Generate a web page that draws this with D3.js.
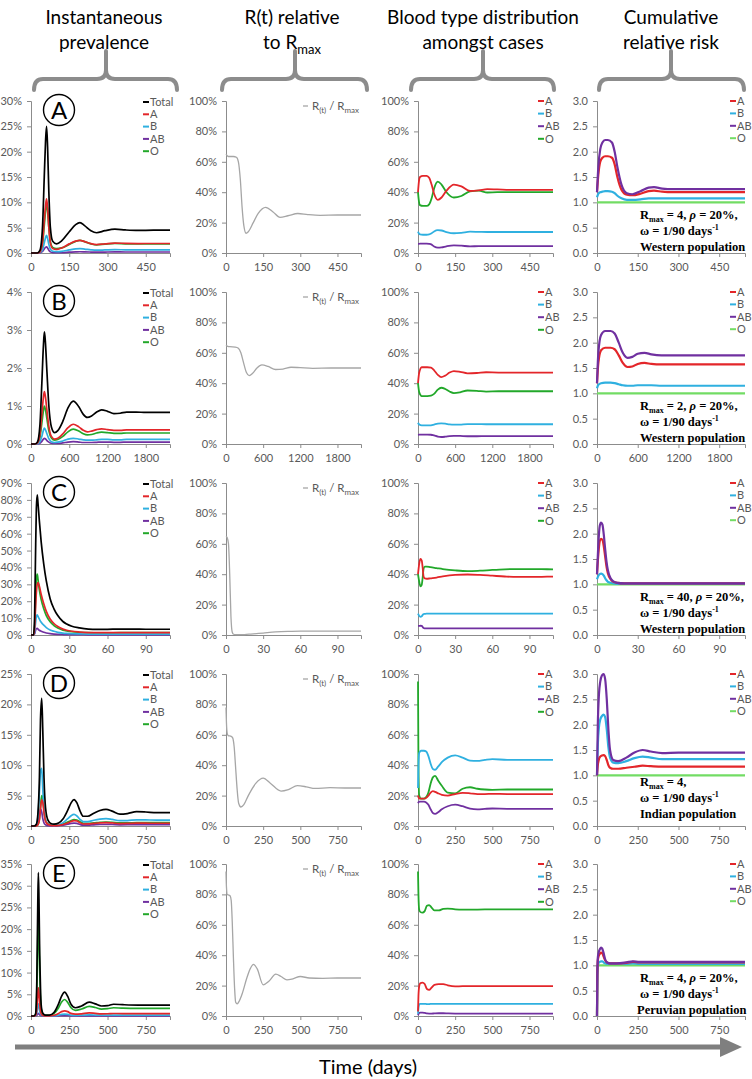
<!DOCTYPE html>
<html><head><meta charset="utf-8">
<script src="https://cdn.jsdelivr.net/npm/d3@7"></script>
<style>body{margin:0;background:#fff}svg{display:block}</style>
</head><body><svg id="c" width="752" height="1079"></svg>
<script>
// ---------- DATA ----------
const rowLabels = ["A","B","C","D","E"];
const headers = [["Instantaneous","prevalence"],["R(t) relative","to R"],["Blood type distribution","amongst cases"],["Cumulative","relative risk"]];
const xMaxDays = [545, 2180, 109, 908, 908];
const xTickVals = [[0,150,300,450],[0,600,1200,1800],[0,30,60,90],[0,250,500,750],[0,250,500,750]];
const prevMax = [30, 4, 90, 25, 35];
const prevStep = [5, 1, 10, 5, 5];
const pctTicks = [0,20,40,60,80,100];
const rrTicks = [0,0.5,1,1.5,2,2.5,3];
const prevNames = ["Total","A","B","AB","O"];
const typeNames = ["A","B","AB","O"];
const rmaxVals = ["4","2","40","4","4"];
const rhoShown = [true,true,true,false,true];
const populations = ["Western population","Western population","Western population","Indian population","Peruvian population"];

// Row A
const prevA = {t:[0,25,35,45,52,57,61,65,70,76,85,100,120,150,175,192,210,235,257,290,329,370,420,480,545],
 Total:[0,0,0.5,5,15,22,25,21,12,5,2.3,1.8,2.4,4.2,5.6,6.0,5.4,4.4,4.0,4.4,4.7,4.55,4.45,4.5,4.5],
 A:[0,0,0.2,2.1,6.4,9.3,10.7,8.9,5.0,2.0,0.9,0.7,1.0,1.8,2.35,2.5,2.25,1.85,1.65,1.8,1.95,1.9,1.87,1.88,1.88],
 B:[0,0,0.06,0.6,2.0,3.0,3.5,2.9,1.7,0.75,0.35,0.27,0.33,0.6,0.8,0.85,0.77,0.63,0.56,0.6,0.65,0.63,0.62,0.62,0.62],
 AB:[0,0,0.03,0.3,0.8,1.1,1.2,1.0,0.55,0.22,0.09,0.07,0.08,0.16,0.22,0.25,0.23,0.19,0.17,0.19,0.21,0.2,0.2,0.2,0.2],
 O:[0,0,0.17,1.6,5.4,8.2,10.0,8.4,5.0,2.2,1.1,0.85,1.0,1.7,2.3,2.5,2.25,1.8,1.6,1.75,1.9,1.82,1.78,1.8,1.8]};
const rA = {t:[0,5,10,30,42,50,58,65,72,81,90,110,130,160,190,218,250,290,330,380,450,545],
 R:[65,64,63.5,63.5,63,60,48,30,18,13,14,20,26,30,27,23.5,24.5,26,25.3,24.8,25,25]};
const distA = {t:[0,3,8,20,35,45,55,65,80,95,115,145,175,210,245,280,320,380,450,545],
 A:[40,46,50,50.8,50.7,49.5,45,39,35,36.5,41,45,43.8,40.8,41.2,42,41.8,41.5,41.5,41.5],
 B:[14,13,12.2,12,12,12.2,13,14.2,15,14.8,13.8,13,13.3,14,13.9,13.8,13.8,13.8,13.8,13.8],
 AB:[6,6,6.2,6.2,6.2,6,5.5,4.3,3.5,3.7,4.4,5,4.8,4.4,4.5,4.5,4.5,4.5,4.5,4.5],
 O:[40,35,31.5,31,31,32,36,42.5,47,45,40,36.5,37.5,40.5,41,39.8,40,40,40,40]};
const rrA = {t:[0,5,12,20,30,40,55,65,75,90,110,130,160,190,210,240,280,350,450,545],
 A:[1.2,1.55,1.8,1.88,1.91,1.91,1.88,1.75,1.5,1.25,1.15,1.14,1.17,1.22,1.23,1.21,1.2,1.2,1.2,1.2],
 B:[1.1,1.17,1.2,1.21,1.22,1.22,1.21,1.18,1.13,1.08,1.05,1.05,1.06,1.08,1.08,1.08,1.08,1.08,1.08,1.08],
 AB:[1.2,1.7,2.05,2.18,2.23,2.23,2.18,2.0,1.7,1.35,1.18,1.16,1.22,1.29,1.3,1.27,1.26,1.26,1.26,1.26],
 O:[1,1,1,1,1,1,1,1,1,1,1,1,1,1,1,1,1,1,1,1]};

// Row B
const prevB = {t:[0,60,100,140,170,195,210,225,250,280,320,370,420,500,580,663,750,820,883,950,1030,1107,1200,1300,1400,1500,1650,1800,2000,2180],
 Total:[0,0,0.05,0.5,1.6,2.6,2.95,2.7,1.9,1.0,0.45,0.3,0.35,0.6,0.95,1.13,0.98,0.78,0.7,0.74,0.84,0.9,0.86,0.8,0.81,0.84,0.84,0.83,0.83,0.83],
 A:[0,0,0.025,0.25,0.78,1.23,1.38,1.26,0.88,0.46,0.2,0.13,0.15,0.27,0.43,0.52,0.45,0.36,0.32,0.34,0.38,0.4,0.38,0.36,0.36,0.37,0.37,0.37,0.37,0.37],
 B:[0,0,0.007,0.06,0.2,0.36,0.42,0.38,0.27,0.14,0.06,0.04,0.05,0.08,0.13,0.15,0.13,0.11,0.1,0.1,0.11,0.12,0.12,0.11,0.11,0.12,0.12,0.12,0.12,0.12],
 AB:[0,0,0.003,0.02,0.07,0.13,0.15,0.14,0.09,0.05,0.02,0.015,0.015,0.03,0.05,0.06,0.05,0.04,0.04,0.04,0.045,0.05,0.05,0.045,0.045,0.05,0.05,0.05,0.05,0.05],
 O:[0,0,0.015,0.17,0.55,0.88,1.0,0.92,0.66,0.35,0.16,0.1,0.12,0.2,0.32,0.39,0.34,0.27,0.24,0.25,0.29,0.31,0.3,0.28,0.28,0.29,0.29,0.29,0.29,0.29]};
const rB = {t:[0,30,60,150,200,240,280,330,375,430,500,580,680,800,920,1050,1200,1400,1700,2180],
 R:[65,64.2,64,63.8,63,60,54,47,45,46.5,50,52,51,49,49.3,50.5,50.2,49.8,50,50]};
const distB = {t:[0,20,60,150,210,260,320,375,440,510,580,680,800,950,1100,1300,1600,2180],
 A:[40,47,50.5,50.5,50.2,48.5,45.5,44,45,47,48,47.5,46.5,46.7,47.2,47,47,47],
 B:[14,12.8,12.2,12.2,12.3,12.8,13.4,13.6,13.4,12.9,12.7,12.8,13.1,13.1,13,13,13,13],
 AB:[6,6.1,6.2,6.2,6.1,5.6,4.9,4.6,4.8,5.2,5.4,5.3,5.1,5.1,5.2,5.2,5.2,5.2],
 O:[40,34,31.5,31.5,31.8,33,35.8,37,36.2,34.5,33.5,34,35.2,35,34.5,34.7,34.7,34.7]};
const rrB = {t:[0,20,60,120,200,260,320,380,450,520,600,700,800,950,1200,1600,2180],
 A:[1.2,1.6,1.85,1.9,1.9,1.87,1.75,1.6,1.52,1.53,1.58,1.6,1.58,1.57,1.57,1.57,1.57],
 B:[1.1,1.17,1.2,1.21,1.21,1.2,1.18,1.16,1.15,1.15,1.16,1.16,1.16,1.15,1.15,1.15,1.15],
 AB:[1.2,1.8,2.15,2.23,2.23,2.18,2.0,1.8,1.7,1.72,1.78,1.8,1.77,1.75,1.75,1.75,1.75],
 O:[1,1,1,1,1,1,1,1,1,1,1,1,1,1,1,1,1]};

// Row C
const prevC = {t:[0,2,2.8,3.5,4.2,4.9,5.5,6.5,8,10,12,15,18,21,25,28,32,38,45,52,60,70,80,90,100,109],
 Total:[0,0,10,45,75,83,78,68,55,42,32,21.5,15.5,11.5,8,6.5,5.2,4.2,3.5,3.3,3.35,3.5,3.5,3.4,3.4,3.4],
 A:[0,0,3.5,15,25,30,31,29,24,18.5,14,9.5,6.8,5,3.5,2.8,2.2,1.75,1.45,1.35,1.38,1.43,1.45,1.42,1.42,1.42],
 B:[0,0,1.6,6.5,11,12,11,9.5,7.5,5.8,4.4,3.0,2.2,1.6,1.15,0.95,0.75,0.62,0.52,0.48,0.48,0.5,0.5,0.48,0.48,0.48],
 AB:[0,0,0.6,2.5,3.8,4,3.5,2.8,2.2,1.6,1.2,0.8,0.55,0.4,0.28,0.22,0.18,0.15,0.13,0.12,0.12,0.13,0.13,0.13,0.13,0.13],
 O:[0,0,4,20,33,36,33,27,21,15.5,11.5,7.8,5.6,4.1,2.9,2.4,1.95,1.6,1.35,1.3,1.3,1.35,1.38,1.35,1.35,1.35]};
const rC = {t:[0,1,2,3,4,5,6,8,10,15,20,30,40,50,60,80,109],
 R:[65,64,60,40,12,2,0.5,0.2,0.2,0.3,0.6,1.3,2.0,2.4,2.6,2.6,2.5]};
const distC = {t:[0,1,2,3,3.8,4.5,5.5,7,10,15,20,30,40,50,60,70,80,90,100,109],
 A:[40,47,50,49,44,38.5,37.2,37,37.3,37.8,38.5,39.5,39.8,39.5,39,38.5,38.2,38.2,38.3,38.4],
 B:[14,12.5,12,12.3,13.2,13.8,13.9,14,14,14,14,14,14,14,14,14,14,14,14,14],
 AB:[6,6,6.1,6,5.2,4.6,4.4,4.3,4.3,4.3,4.3,4.3,4.3,4.3,4.3,4.3,4.3,4.3,4.3,4.3],
 O:[40,35,32,33,38,43.5,45,45,44.6,44,43.4,42.5,42,42.3,42.8,43.2,43.4,43.4,43.3,43.2]};
const rrC = {t:[0,1,2,3,4,5,6,7,8,10,12,15,20,30,50,109],
 A:[1.2,1.6,1.85,1.9,1.88,1.75,1.55,1.35,1.22,1.1,1.05,1.03,1.02,1.02,1.02,1.02],
 B:[1.1,1.17,1.2,1.21,1.2,1.17,1.12,1.08,1.05,1.03,1.02,1.01,1.01,1.01,1.01,1.01],
 AB:[1.2,1.8,2.15,2.22,2.18,1.98,1.7,1.45,1.28,1.12,1.06,1.03,1.02,1.02,1.02,1.02],
 O:[1,1,1,1,1,1,1,1,1,1,1,1,1,1,1,1]};

// Row D
const prevD = {t:[0,20,35,45,55,62,70,77,85,95,110,130,150,180,210,240,262,281,300,320,341,370,410,450,490,530,581,630,690,750,820,908],
 Total:[0,0,0.3,2,8,17.5,21,15.7,7.9,3,1,0.4,0.3,0.5,1.2,2.6,3.8,4.35,3.8,2.5,1.6,1.6,2.1,2.55,2.74,2.45,1.95,2.05,2.35,2.3,2.2,2.2],
 A:[0,0,0.03,0.2,1.0,2.8,4.3,3.9,2.2,0.8,0.28,0.1,0.07,0.1,0.25,0.5,0.75,0.9,0.82,0.55,0.33,0.35,0.42,0.5,0.55,0.5,0.4,0.42,0.47,0.46,0.45,0.45],
 B:[0,0,0.2,1.5,5.5,9.0,9.5,6,2.6,0.9,0.3,0.12,0.1,0.2,0.55,1.2,1.7,1.9,1.65,1.1,0.72,0.72,0.95,1.12,1.2,1.08,0.88,0.9,1.02,1.0,0.97,0.97],
 AB:[0,0,0.05,0.4,1.8,2.8,2.3,1.2,0.5,0.2,0.06,0.03,0.03,0.06,0.15,0.3,0.42,0.48,0.42,0.25,0.15,0.15,0.2,0.25,0.27,0.25,0.2,0.21,0.24,0.24,0.23,0.23],
 O:[0,0,0.04,0.2,1.2,3.2,5.0,4.6,2.6,1.0,0.35,0.15,0.1,0.15,0.3,0.65,0.9,1.05,0.98,0.7,0.45,0.42,0.5,0.6,0.66,0.62,0.5,0.5,0.56,0.56,0.54,0.54]};
const rD = {t:[0,3,8,15,35,45,55,65,75,85,100,120,150,200,250,300,370,420,480,540,600,700,800,908],
 R:[78,68,61,59.5,59,58,52,38,24,15,12.5,14,20,28,31.5,28,23,24,26.5,25.8,24.7,25.2,25,25]};
const distD = {t:[0,3,8,20,40,55,70,85,100,115,135,160,200,250,300,350,400,450,500,600,700,908],
 A:[20,19,18,18,18,18.5,20,22,23,22.5,21.5,20.5,20,21,21.8,21.5,21,21,21.2,21,21,21],
 B:[25,40,48,49.5,49.5,49,46,41,37.5,37,39,42,45,46.5,45,43,42.8,43.5,44,43.5,43.5,43.5],
 AB:[15,15.5,16,16,16,15.5,14,11,8.5,8,9,11,13,14,13,11.5,11,11.3,11.5,11.3,11.3,11.3],
 O:[95,40,20,18,18,19,22,28,32,33,30,26.5,22,21.5,24.5,25.5,24.5,24,23.8,24,24,24]};
const rrD = {t:[0,5,12,20,30,40,50,60,70,80,100,130,180,230,280,330,400,500,700,908],
 A:[1.0,1.2,1.32,1.37,1.39,1.4,1.38,1.3,1.2,1.15,1.13,1.13,1.15,1.17,1.19,1.18,1.17,1.17,1.17,1.17],
 B:[1.0,1.6,1.95,2.1,2.17,2.2,2.15,1.9,1.55,1.35,1.25,1.24,1.28,1.34,1.37,1.35,1.32,1.32,1.32,1.32],
 AB:[1.0,2.0,2.6,2.85,2.97,3.0,2.9,2.5,1.9,1.5,1.3,1.28,1.35,1.45,1.5,1.47,1.44,1.45,1.45,1.45],
 O:[1,1,1,1,1,1,1,1,1,1,1,1,1,1,1,1,1,1,1,1]};

// Row E
const prevE = {t:[0,20,30,38,44,48,52,57,63,70,80,95,120,150,180,200,220,240,260,290,330,380,420,460,500,540,600,700,800,908],
 Total:[0,0,0.5,8,25,33,27,14,5,1.5,0.5,0.2,0.2,0.8,2.8,4.6,5.5,4.5,2.8,1.9,2.3,3.2,2.8,2.3,2.4,2.7,2.6,2.5,2.5,2.5],
 A:[0,0,0.1,1.6,5,6.5,5.3,2.7,1,0.3,0.1,0.04,0.04,0.17,0.6,1,1.2,1,0.6,0.42,0.5,0.7,0.6,0.5,0.52,0.58,0.56,0.54,0.54,0.54],
 B:[0,0,0.04,0.7,2.2,2.8,2.2,1.1,0.4,0.13,0.04,0.02,0.02,0.07,0.22,0.36,0.43,0.36,0.22,0.15,0.18,0.25,0.22,0.18,0.19,0.21,0.2,0.2,0.2,0.2],
 AB:[0,0,0.01,0.15,0.45,0.6,0.5,0.25,0.09,0.03,0.01,0,0,0.01,0.04,0.07,0.08,0.07,0.04,0.03,0.03,0.05,0.04,0.03,0.04,0.04,0.04,0.04,0.04,0.04],
 O:[0,0,0.35,5.5,17.5,23,19,10,3.5,1,0.35,0.14,0.14,0.55,1.9,3.2,3.8,3.1,1.95,1.3,1.6,2.2,1.95,1.6,1.7,1.9,1.8,1.75,1.75,1.75]};
const rE = {t:[0,3,8,20,28,35,42,50,58,65,75,90,110,140,165,185,210,250,290,335,370,410,450,500,560,650,750,908],
 R:[95,85,80,79.5,79,76,62,38,18,9,8,10,15,25,31.5,34,31,20.5,23,27.5,26,23.8,24.5,26,25,24.8,25,25]};
const distE = {t:[0,3,8,15,30,45,60,75,90,110,140,170,200,250,300,400,500,908],
 A:[3,13,19.5,21.5,22,21,17.8,17.2,18.5,20.5,21,21,20.2,19.5,19.6,19.6,19.7,19.7],
 B:[1.5,5,7.5,8,8,8,7.8,7.8,8,8,8,8,8,8,8,8,8,8],
 AB:[0.5,1.3,2,2.2,2.2,2,1.7,1.6,1.6,1.7,1.8,1.8,1.7,1.6,1.6,1.6,1.6,1.6],
 O:[95,80,70,68.5,68,69,72.5,73,71.5,69.5,69.5,70.5,70.7,70.2,70,70,70.2,70.2]};
const rrE = {t:[0,2,5,10,18,25,32,40,50,60,80,120,180,220,260,350,500,908],
 A:[0,0.8,1.1,1.18,1.23,1.25,1.24,1.18,1.1,1.06,1.04,1.04,1.05,1.07,1.06,1.06,1.06,1.06],
 B:[0,0.8,1.0,1.05,1.07,1.08,1.08,1.06,1.04,1.03,1.03,1.03,1.03,1.04,1.03,1.03,1.03,1.03],
 AB:[0,0.8,1.15,1.25,1.32,1.35,1.33,1.25,1.12,1.06,1.04,1.04,1.06,1.08,1.07,1.07,1.07,1.07],
 O:[0,0.8,1,1,1,1,1,1,1,1,1,1,1,1,1,1,1,1]};

const prevData = [prevA, prevB, prevC, prevD, prevE];
const rData = [rA, rB, rC, rD, rE];
const distData = [distA, distB, distC, distD, distE];
const rrData = [rrA, rrB, rrC, rrD, rrE];

// ---------- STYLE / LAYOUT ----------
const colors = {Total:"#000000", A:"#e3262a", B:"#2fb0e0", AB:"#7030a0", O:"#22a82a", R:"#a6a6a6"};
const rrColors = {A:"#e3262a", B:"#2fb0e0", AB:"#7030a0", O:"#72dc64"};
const colX0 = [31, 226, 418, 597];
const colX1 = [170, 361, 553, 745];
const rowTop = [101, 292, 483, 674, 864];
const plotH = 152;
const FONT = "Lato, 'Open Sans', sans-serif";

const svg = d3.select("#c");

function drawAxes(xs, ys, xTicks, yTicks, yFmt) {
  const gx = svg.append("g").attr("transform", `translate(0,${ys.range()[0]})`)
    .call(d3.axisBottom(xs).tickValues(xTicks).tickSize(4).tickPadding(6).tickFormat(d3.format("d")));
  const gy = svg.append("g").attr("transform", `translate(${xs.range()[0]},0)`)
    .call(d3.axisLeft(ys).tickValues(yTicks).tickSize(4).tickPadding(5).tickFormat(yFmt));
  [gx, gy].forEach(g => {
    g.select(".domain").attr("stroke", "#8c8c8c");
    g.selectAll(".tick line").attr("stroke", "#8c8c8c");
    g.selectAll(".tick text").attr("fill", "#595959").style("font-family", FONT).style("font-size", "11px");
  });
}

function drawLines(xs, ys, data, names, cmap, width) {
  const line = d3.line().x((d) => xs(d[0])).y((d) => ys(d[1])).curve(d3.curveMonotoneX);
  names.slice().reverse().forEach(n => {
    const pts = data.t.map((t, i) => [t, data[n][i]]);
    svg.append("path").attr("d", line(pts)).attr("fill", "none")
      .attr("stroke", cmap[n]).attr("stroke-width", width).attr("stroke-linejoin", "round");
  });
}

function drawLegend(x, y0, step, names, cmap) {
  names.forEach((n, i) => {
    const y = y0 + i * step;
    svg.append("line").attr("x1", x).attr("x2", x + 6).attr("y1", y).attr("y2", y)
      .attr("stroke", cmap[n]).attr("stroke-width", 2);
    svg.append("text").attr("x", x + 7).attr("y", y).attr("dy", "0.35em")
      .attr("fill", "#595959").style("font-family", FONT).style("font-size", "11px").text(n);
  });
}

rowLabels.forEach((lab, r) => {
  const top = rowTop[r], bot = top + plotH;
  // Column 1: prevalence
  {
    const xs = d3.scaleLinear().domain([0, xMaxDays[r]]).range([colX0[0], colX1[0]]);
    const ys = d3.scaleLinear().domain([0, prevMax[r]]).range([bot, top]);
    drawAxes(xs, ys, xTickVals[r], d3.range(0, prevMax[r] + 0.001, prevStep[r]), d => d + "%");
    drawLines(xs, ys, prevData[r], prevNames, colors, 1.7);
    drawLegend(143, top + 1, 12.3, prevNames, colors);
    svg.append("circle").attr("cx", 59).attr("cy", top + 9).attr("r", 15.5)
      .attr("fill", "none").attr("stroke", "#000").attr("stroke-width", 1.4);
    svg.append("text").attr("x", 59).attr("y", top + 9).attr("dy", "0.36em").attr("text-anchor", "middle")
      .style("font-family", FONT).style("font-size", "24px").attr("fill", "#000").text(lab);
  }
  // Column 2: R(t)/Rmax
  {
    const xs = d3.scaleLinear().domain([0, xMaxDays[r]]).range([colX0[1], colX1[1]]);
    const ys = d3.scaleLinear().domain([0, 100]).range([bot, top]);
    drawAxes(xs, ys, xTickVals[r], pctTicks, d => d + "%");
    const line = d3.line().x(d => xs(d[0])).y(d => ys(d[1])).curve(d3.curveMonotoneX);
    svg.append("path").attr("d", line(rData[r].t.map((t, i) => [t, rData[r].R[i]])))
      .attr("fill", "none").attr("stroke", colors.R).attr("stroke-width", 1.3);
    svg.append("line").attr("x1", 303).attr("x2", 308).attr("y1", top + 5).attr("y2", top + 5)
      .attr("stroke", colors.R).attr("stroke-width", 1.3);
    const t = svg.append("text").attr("x", 312).attr("y", top + 5).attr("dy", "0.35em")
      .attr("fill", "#595959").style("font-family", FONT).style("font-size", "11.5px");
    t.append("tspan").text("R");
    t.append("tspan").attr("dy", 3).style("font-size", "8px").text("(t)");
    t.append("tspan").attr("dy", -3).text(" / R");
    t.append("tspan").attr("dy", 3).style("font-size", "8px").text("max");
  }
  // Column 3: distribution
  {
    const xs = d3.scaleLinear().domain([0, xMaxDays[r]]).range([colX0[2], colX1[2]]);
    const ys = d3.scaleLinear().domain([0, 100]).range([bot, top]);
    drawAxes(xs, ys, xTickVals[r], pctTicks, d => d + "%");
    drawLines(xs, ys, distData[r], typeNames, colors, 1.8);
    drawLegend(538, top, 12.6, typeNames, colors);
  }
  // Column 4: relative risk
  {
    const xs = d3.scaleLinear().domain([0, xMaxDays[r]]).range([colX0[3], colX1[3]]);
    const ys = d3.scaleLinear().domain([0, 3]).range([bot, top]);
    drawAxes(xs, ys, xTickVals[r], rrTicks, d3.format(".1f"));
    drawLines(xs, ys, rrData[r], ["O","B","A","AB"].reverse(), rrColors, 2.2);
    drawLegend(730, top, 12.4, typeNames, rrColors);
    // annotation
    const yb = r === 3 ? top + 112 : top + 118;
    const ann = svg.append("g").style("font-family", "'Liberation Serif','Times New Roman',serif")
      .style("font-weight", "bold").style("font-size", "12.5px").attr("fill", "#000");
    const l1 = ann.append("text").attr("x", 640).attr("y", yb);
    l1.append("tspan").text("R");
    l1.append("tspan").attr("dy", 3).style("font-size", "8px").text("max");
    l1.append("tspan").attr("dy", -3).text(" = " + rmaxVals[r] + ", ");
    if (rhoShown[r]) {
      l1.append("tspan").style("font-style", "italic").text("\u03C1");
      l1.append("tspan").text(" = 20%,");
    }
    const l2 = ann.append("text").attr("x", 640).attr("y", yb + 16);
    l2.append("tspan").text("\u03C9 = 1/90 days");
    l2.append("tspan").attr("dy", -5).style("font-size", "8px").text("-1");
    ann.append("text").attr("x", r === 4 ? 637 : 640).attr("y", yb + 32).text(populations[r]);
  }
});

// ---------- HEADERS & BRACES ----------
const headerCx = [104, 292, 483, 671];
headers.forEach((h, i) => {
  svg.append("text").attr("x", headerCx[i]).attr("y", 24).attr("text-anchor", "middle")
    .style("font-family", FONT).style("font-size", "19px").attr("fill", "#000").text(h[0]);
  const t2 = svg.append("text").attr("x", headerCx[i]).attr("y", 49).attr("text-anchor", "middle")
    .style("font-family", FONT).style("font-size", "19px").attr("fill", "#000");
  t2.append("tspan").text(h[1]);
  if (i === 1) t2.append("tspan").attr("dy", 5).style("font-size", "13px").text("max");
});
const braceX = [[34, 177, 106], [222, 367, 295], [411, 554, 483], [599, 744, 671]];
braceX.forEach(([a, b, c]) => {
  const yb = 90, yh = 79, yt = 51, r = 9;
  const p = `M${a},${yb} Q${a},${yh} ${a + r},${yh} L${c - r},${yh} Q${c},${yh} ${c},${yh - r} L${c},${yt} M${c},${yh - r} Q${c},${yh} ${c + r},${yh} L${b - r},${yh} Q${b},${yh} ${b},${yb}`;
  svg.append("path").attr("d", p).attr("fill", "none").attr("stroke", "#8c8c8c")
    .attr("stroke-width", 4).attr("stroke-linecap", "round").attr("stroke-linejoin", "round");
});

// ---------- TIME ARROW ----------
svg.append("line").attr("x1", 15).attr("x2", 722).attr("y1", 1047).attr("y2", 1047)
  .attr("stroke", "#7f7f7f").attr("stroke-width", 5);
svg.append("path").attr("d", "M720,1037 L742,1047 L720,1057 Z").attr("fill", "#7f7f7f");
svg.append("text").attr("x", 368).attr("y", 1067).attr("dy", "0.35em").attr("text-anchor", "middle")
  .style("font-family", FONT).style("font-size", "20px").attr("fill", "#000").text("Time (days)");
</script></body></html>
